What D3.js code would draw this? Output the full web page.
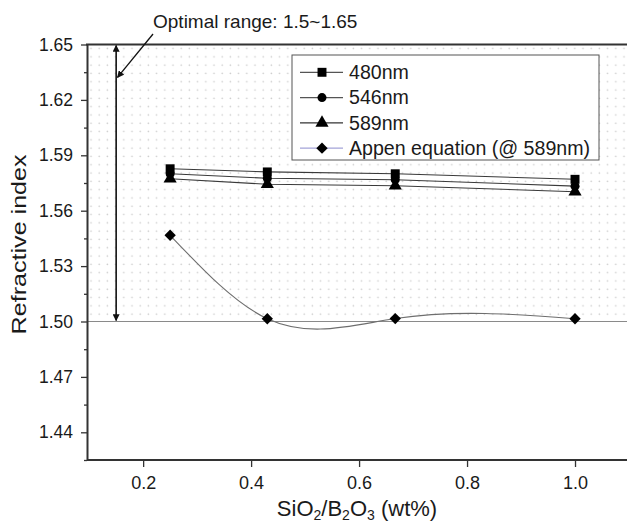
<!DOCTYPE html>
<html><head><meta charset="utf-8">
<script src="https://cdn.jsdelivr.net/npm/d3@7"></script>
<style>
body{margin:0;background:#fff}
text{font-family:"Liberation Sans",Arial,sans-serif;fill:#1a1a1a}
</style>
</head><body>
<svg id="c" width="627" height="527"></svg>
<script>
// ---- data ----
const xValues = [0.25, 0.43, 0.667, 1.0];
const n480 = [1.5827, 1.5810, 1.5800, 1.5770];
const n546 = [1.5800, 1.5776, 1.5768, 1.5733];
const n589 = [1.5773, 1.5743, 1.5735, 1.5703];
const appen = [1.5467, 1.5015, 1.5016, 1.5015];
const seriesNames = ["480nm", "546nm", "589nm", "Appen equation (@ 589nm)"];
const yTicks = [1.44, 1.47, 1.50, 1.53, 1.56, 1.59, 1.62, 1.65];
const yMinorTicks = [1.425, 1.455, 1.485, 1.515, 1.545, 1.575, 1.605, 1.635];
const xTicks = [0.2, 0.4, 0.6, 0.8, 1.0];
const optimalRange = [1.50, 1.65];
const optimalX = 0.15;
const noteText = "Optimal range: 1.5~1.65";
const noteStart = [0.2183, 1.6557];
const noteEnd = [0.1525, 1.6322];
const noteTextPos = [0.2183, 1.6589];

// natural cubic spline in x (non-uniform knots) as a d3 curve factory
function NaturalX(context){ this._context = context; }
NaturalX.prototype = {
  areaStart(){ this._line = 0; }, areaEnd(){ this._line = NaN; },
  lineStart(){ this._x = []; this._y = []; },
  point(px, py){ this._x.push(+px); this._y.push(+py); },
  lineEnd(){
    const X = this._x, Y = this._y, n = X.length, c = this._context;
    if (!n) return;
    c.moveTo(X[0], Y[0]);
    if (n < 3) { for (let i = 1; i < n; i++) c.lineTo(X[i], Y[i]); return; }
    const h = [], M = new Array(n).fill(0);
    for (let i = 0; i < n - 1; i++) h.push(X[i+1] - X[i]);
    const a = [], b = [], cc = [], d = [];
    for (let i = 1; i < n - 1; i++) {
      a.push(h[i-1]); b.push(2 * (h[i-1] + h[i])); cc.push(h[i]);
      d.push(6 * ((Y[i+1] - Y[i]) / h[i] - (Y[i] - Y[i-1]) / h[i-1]));
    }
    const m = b.length;
    for (let i = 1; i < m; i++) { const w = a[i] / b[i-1]; b[i] -= w * cc[i-1]; d[i] -= w * d[i-1]; }
    const sol = new Array(m);
    sol[m-1] = d[m-1] / b[m-1];
    for (let i = m - 2; i >= 0; i--) sol[i] = (d[i] - cc[i] * sol[i+1]) / b[i];
    for (let i = 0; i < m; i++) M[i+1] = sol[i];
    for (let i = 0; i < n - 1; i++) {
      const hi = h[i], s = (Y[i+1] - Y[i]) / hi;
      const d0 = s - hi * (2 * M[i] + M[i+1]) / 6;
      const d1 = s + hi * (M[i] + 2 * M[i+1]) / 6;
      c.bezierCurveTo(X[i] + hi/3, Y[i] + d0 * hi/3, X[i+1] - hi/3, Y[i+1] - d1 * hi/3, X[i+1], Y[i+1]);
    }
  }
};
const curveNaturalX = ctx => new NaturalX(ctx);

// ---- scales ----
const svg = d3.select("#c");
const x = d3.scaleLinear().domain([0.096, 1.1]).range([87, 629]);
const y = d3.scaleLinear().domain([1.425, 1.65]).range([460, 44.5]);
const left = x.range()[0], right = 627;

const defs = svg.append("defs");
const pat = defs.append("pattern").attr("id","dots").attr("patternUnits","userSpaceOnUse")
  .attr("width",8.2).attr("height",8.3).attr("x",left).attr("y",y(1.65));
pat.append("circle").attr("cx",4).attr("cy",4).attr("r",0.85).attr("fill","#cdcdcd");
defs.append("marker").attr("id","ah").attr("viewBox","0 0 10 10").attr("refX",9).attr("refY",5)
  .attr("markerWidth",7).attr("markerHeight",7).attr("markerUnits","userSpaceOnUse").attr("orient","auto-start-reverse")
  .append("path").attr("d","M0,0 L10,5 L0,10 Z").attr("fill","#111");

// dotted optimal region
svg.append("rect").attr("x",left).attr("y",y(optimalRange[1]))
  .attr("width",right-left).attr("height",y(optimalRange[0])-y(optimalRange[1]))
  .attr("fill","url(#dots)");
// 1.50 reference line
svg.append("line").attr("x1",left).attr("x2",right).attr("y1",y(optimalRange[0])).attr("y2",y(optimalRange[0]))
  .attr("stroke","#8a8a8a").attr("stroke-width",1.2);

// axes
svg.append("g").attr("transform",`translate(${left},0)`)
  .call(d3.axisLeft(y).tickValues(yTicks).tickFormat(d3.format(".2f")).tickSize(6).tickSizeOuter(0).tickPadding(8));
svg.append("g").attr("transform",`translate(${left},0)`)
  .call(d3.axisLeft(y).tickValues(yMinorTicks).tickFormat("").tickSize(3).tickSizeOuter(0))
  .select(".domain").remove();
const gx = svg.append("g").attr("transform",`translate(0,${y.range()[0]})`)
  .call(d3.axisBottom(x).tickValues(xTicks).tickFormat(d3.format(".1f")).tickSize(7).tickSizeOuter(0).tickPadding(9));
gx.select(".domain").attr("d",`M${left},0H${right}`);
svg.selectAll(".domain").attr("stroke","#333").attr("stroke-width",2);
svg.selectAll(".tick line").attr("stroke","#333").attr("stroke-width",1.3);
svg.selectAll(".tick text").attr("font-size",17.5).attr("fill","#151515")
  .attr("font-family","'Liberation Sans',Arial,sans-serif");
gx.selectAll(".tick text").attr("font-size",18);
// top frame
svg.append("line").attr("x1",left-1).attr("x2",right).attr("y1",y(1.65)).attr("y2",y(1.65))
  .attr("stroke","#333").attr("stroke-width",2);

// axis titles
const xt = svg.append("text").attr("x",357).attr("y",516).attr("text-anchor","middle").attr("font-size",22);
xt.append("tspan").text("SiO");
xt.append("tspan").text("2").attr("font-size",14).attr("dy",4);
xt.append("tspan").text("/B").attr("dy",-4);
xt.append("tspan").text("2").attr("font-size",14).attr("dy",4);
xt.append("tspan").text("O").attr("dy",-4);
xt.append("tspan").text("3").attr("font-size",14).attr("dy",4);
xt.append("tspan").text(" (wt%)").attr("dy",-4);
svg.append("text").attr("transform",`translate(26,${(y(1.47)+y(1.62))/2+6}) rotate(-90)`)
  .attr("text-anchor","middle").attr("font-size",21)
  .attr("textLength",180).attr("lengthAdjust","spacingAndGlyphs").text("Refractive index");

// series
const pts = vals => xValues.map((v,i)=>[x(v), y(vals[i])]);
const lineL = d3.line().curve(d3.curveLinear);
const lineN = d3.line().curve(curveNaturalX);
const series = [
  {vals:n480, sym:d3.symbolSquare, size:80, rot:0, color:"#3a3a3a"},
  {vals:n546, sym:d3.symbolCircle, size:64, rot:0, color:"#3a3a3a"},
  {vals:n589, sym:d3.symbolTriangle, size:75, rot:0, color:"#3a3a3a"},
  {vals:appen, sym:d3.symbolSquare, size:64, rot:45, color:"#6e6e6e", curve:true}
];
series.forEach(s=>{
  svg.append("path").attr("d",(s.curve?lineN:lineL)(pts(s.vals))).attr("fill","none")
    .attr("stroke",s.color).attr("stroke-width",1.1);
});
series.forEach(s=>{
  svg.append("g").selectAll("path").data(pts(s.vals)).join("path")
    .attr("d",d3.symbol(s.sym,s.size)).attr("fill","#000")
    .attr("transform",d=>`translate(${d[0]},${d[1]}) rotate(${s.rot})`);
});

// optimal range double arrow
svg.append("line").attr("x1",x(optimalX)).attr("x2",x(optimalX))
  .attr("y1",y(optimalRange[0])-1).attr("y2",y(optimalRange[1])+1)
  .attr("stroke","#111").attr("stroke-width",1.6)
  .attr("marker-start","url(#ah)").attr("marker-end","url(#ah)");
svg.append("line").attr("x1",x(noteStart[0])).attr("y1",y(noteStart[1]))
  .attr("x2",x(noteEnd[0])).attr("y2",y(noteEnd[1]))
  .attr("stroke","#111").attr("stroke-width",1.3).attr("marker-end","url(#ah)");
svg.append("text").attr("x",x(noteTextPos[0])).attr("y",y(noteTextPos[1]))
  .attr("font-size",19).text(noteText);

// legend
const lg = svg.append("g");
lg.append("rect").attr("x",292).attr("y",55).attr("width",307).attr("height",105)
  .attr("fill","#fff").attr("stroke","#555").attr("stroke-width",1);
const legColors = ["#555","#555","#333","#a3a3d8"];
series.forEach((s,i)=>{
  const cy = 72.3 + i*25.3;
  lg.append("line").attr("x1",300).attr("x2",343).attr("y1",cy).attr("y2",cy)
    .attr("stroke",legColors[i]).attr("stroke-width",1.3);
  lg.append("path").attr("d",d3.symbol(s.sym,s.size)).attr("fill","#000")
    .attr("transform",`translate(322,${cy}) rotate(${s.rot})`);
  lg.append("text").attr("x",349).attr("y",cy+6.8).attr("font-size",19.6).text(seriesNames[i]);
});
</script>
</body></html>
